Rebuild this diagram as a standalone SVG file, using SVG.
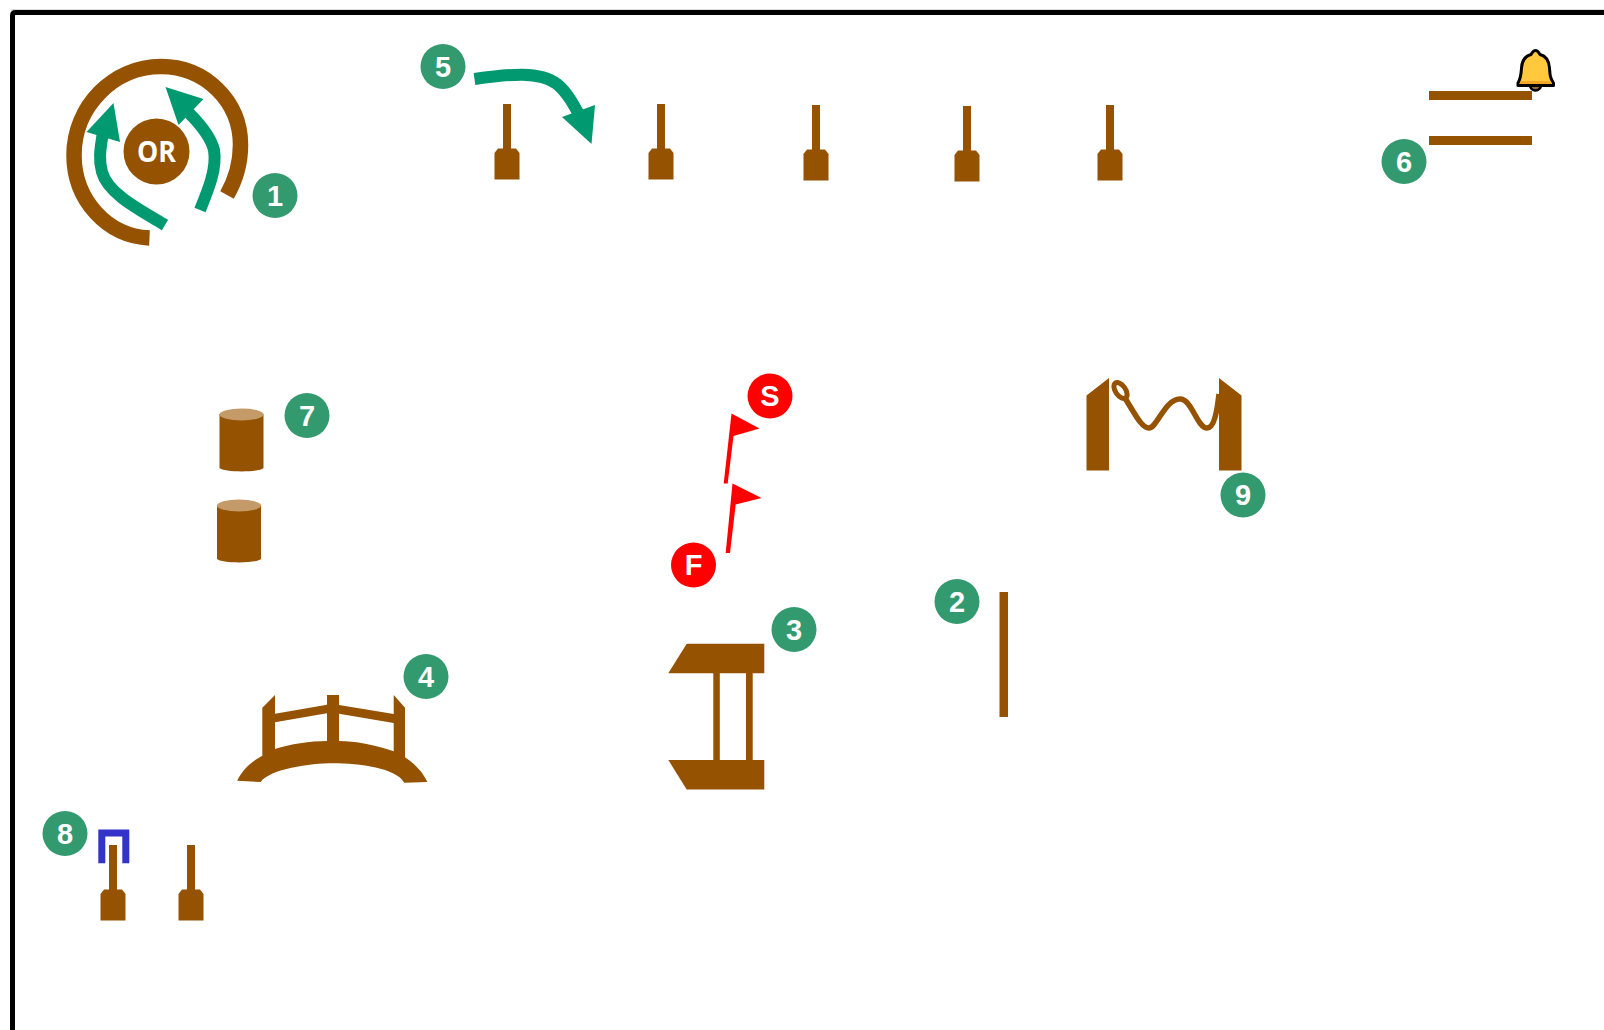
<svg xmlns="http://www.w3.org/2000/svg" width="1604" height="1030" viewBox="0 0 1604 1030">
<style>
.b{fill:#955200}
.bs{fill:none;stroke:#955200}
.g{fill:#009970}
.gs{fill:none;stroke:#009970;stroke-width:12}
.c{fill:#33996f}
.r{fill:#ff0000}
.t{font-family:"Liberation Sans",Arial,sans-serif;font-weight:700;font-size:29px;fill:#fff;text-anchor:middle}
.top{fill:#c49a68}
</style>
<defs>
<g id="post"><rect class="b" x="-4" y="0" width="8" height="46"/><path class="b" d="M-12.500 49L-9 44.500H9L12.500 49V75.500H-12.500Z"/></g>
<g id="barrel"><path class="b" d="M-22 5V59C-18 63.500 18 63.500 22 59V5Z"/><ellipse class="top" cx="0" cy="5.500" rx="22" ry="6"/></g>
</defs>
<rect x="11" y="9.500" width="1593" height="1" fill="#bbb"/>
<path d="M12.500 1030V15.500Q12.500 12.500 15.500 12.500H1604" fill="none" stroke="#000" stroke-width="5"/>
<g id="connectors">
<path class="gs" d="M165 225C140 210 108 194 102 172C98 158 101 146 103 132"/><path class="g" d="M86.500 132L113.500 103L120 142Z"/>
<path class="gs" d="M200 210C209 188 217 168 214 150C211 138 200 124 189 113"/><path class="g" d="M165.500 87L203.500 99L178.500 125Z"/>
<path class="gs" d="M474.500 79C510 74 540 71 557 84C568 93 575 107 583 122"/><path class="g" d="M562 117L595 105L591.500 144Z"/>
</g>
<g id="node-or"><path class="bs" stroke-width="15.500" d="M149.500 238C107 236 74 200 74 155C74 107 113 66.500 161 66.500C205 66.500 240.500 101 240.500 145C240.500 163 235 181 227 195"/><circle class="b" cx="156.500" cy="151.500" r="33"/><text class="t" x="156.500" y="162" textLength="39" lengthAdjust="spacingAndGlyphs" style="font-family:'Open Sans',sans-serif;font-size:28px">OR</text></g>
<g id="posts-5"><use href="#post" x="507" y="104"/><use href="#post" x="661" y="104"/><use href="#post" x="816" y="105"/><use href="#post" x="967" y="106"/><use href="#post" x="1110" y="105"/></g>
<g id="rails-6"><rect class="b" x="1429" y="91" width="103" height="9"/><rect class="b" x="1429" y="136" width="103" height="9"/></g>
<g id="bell"><path d="M1530 85A5.500 5.500 0 0 0 1541 85Z" fill="#a5692a" stroke="#000" stroke-width="2.500"/><path d="M1535.500 50.500C1538 50.500 1539 53 1540 54.500C1546 56 1549 61 1549.500 68C1550 75 1550 78 1553.500 83V85.500H1518V83C1521 78 1521 75 1521.500 68C1522 61 1525 56 1531 54.500C1532 53 1533 50.500 1535.500 50.500Z" fill="#ffc83d" stroke="#000" stroke-width="3" stroke-linejoin="round"/><path d="M1521 81H1550L1552 84H1519.500Z" fill="#f5a623"/></g>
<g id="barrels-7"><use href="#barrel" x="241.500" y="409"/><use href="#barrel" x="239" y="500"/></g>
<g id="flag-s"><path class="r" d="M731.500 413.500L759.500 428.500L733.500 436L727.700 483.500H723.700Z"/></g>
<g id="flag-f"><path class="r" d="M732.500 483.500L761.500 498L735.700 504.500L730 553H725.700Z"/></g>
<g id="gate-9"><path class="b" d="M1086.500 470.500V395.500L1109 378V470.500Z"/><path class="b" d="M1219 470.500V378L1241.500 395.500V470.500Z"/><path class="bs" stroke-width="5.500" d="M1125 398C1136 416 1142 428 1149 428C1157 428 1165 399 1180 399C1192 399 1197 428 1207 428C1214 428 1217 412 1219 394"/><ellipse cx="1120.500" cy="390.500" rx="5" ry="9" transform="rotate(-35 1120.500 390.500)" fill="none" stroke="#955200" stroke-width="5"/></g>
<g id="pole-2"><rect class="b" x="999.500" y="592" width="8.500" height="125"/></g>
<g id="table-3"><path class="b" d="M686.700 643.700H764.300V673.300H668.300Z"/><path class="b" d="M668.300 760H764.300V789.500H686.700Z"/><rect class="b" x="713.300" y="673" width="6.500" height="87"/><rect class="b" x="746" y="673" width="6.700" height="87"/></g>
<g id="bridge-4"><path class="b" fill-rule="evenodd" d="M262.300 707.700V755.700C252 761 242 770 237.300 780.700L260.700 782C270 769 310 763.300 333 763.300C360 763.300 396 768 404.300 782.700L427.300 782C422 770 412 762 405 757.300V707.700L393.700 695V714L339 705V695H327V704.700L275 713.700V695ZM275 722.300L327 713.300V741C310 741 290 744 275 749ZM339 713.700L393.700 723V751.300C375 745 355 741 339 741Z"/></g>
<g id="hoop-8"><path d="M101.800 863.300V833H125.800V863.300" fill="none" stroke="#3333cc" stroke-width="7"/><use href="#post" x="113" y="845"/><use href="#post" x="191" y="845"/></g>
<g id="badges">
<circle class="c" cx="275" cy="195.500" r="22.500"/><text class="t" x="275" y="205.500">1</text>
<circle class="c" cx="957" cy="601.500" r="22.500"/><text class="t" x="957" y="611.500">2</text>
<circle class="c" cx="794" cy="629.500" r="22.500"/><text class="t" x="794" y="639.500">3</text>
<circle class="c" cx="426" cy="676.500" r="22.500"/><text class="t" x="426" y="686.500">4</text>
<circle class="c" cx="443" cy="66.500" r="22.500"/><text class="t" x="443" y="76.500">5</text>
<circle class="c" cx="1404" cy="161.500" r="22.500"/><text class="t" x="1404" y="171.500">6</text>
<circle class="c" cx="307" cy="415.500" r="22.500"/><text class="t" x="307" y="425.500">7</text>
<circle class="c" cx="65" cy="833.500" r="22.500"/><text class="t" x="65" y="843.500">8</text>
<circle class="c" cx="1243" cy="495" r="22.500"/><text class="t" x="1243" y="505">9</text>
<circle class="r" cx="770" cy="396" r="22.500"/><text class="t" x="770" y="406">S</text>
<circle class="r" cx="693.500" cy="565" r="22.500"/><text class="t" x="693.500" y="575">F</text>
</g>
</svg>
